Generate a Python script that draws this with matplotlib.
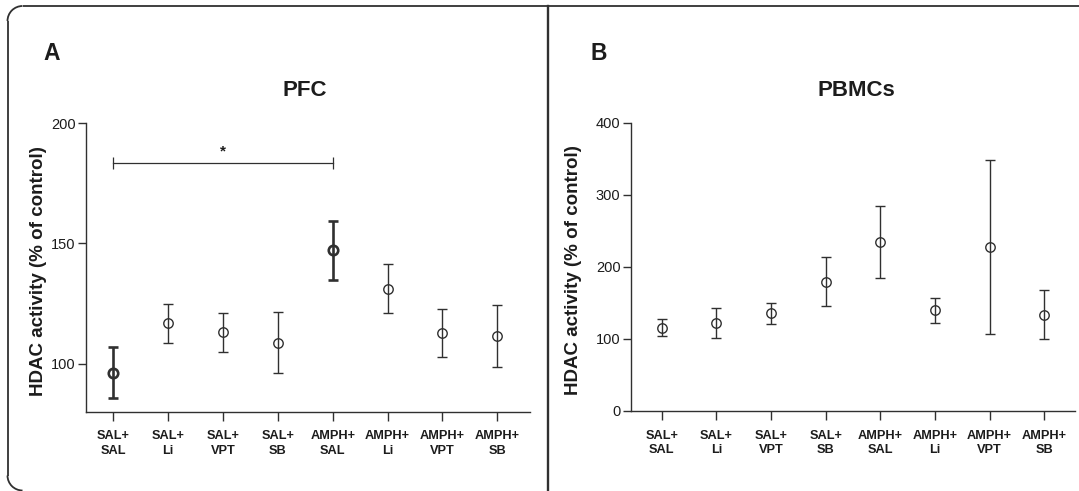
import numpy as np
import matplotlib
matplotlib.use("Agg")
import matplotlib.pyplot as plt
from matplotlib.patches import Arc
from matplotlib.lines import Line2D

plt.rcParams["font.family"] = ["Liberation Sans", "DejaVu Sans"]

# Treatment groups (pretreatment + treatment)
groups = ["SAL+\nSAL", "SAL+\nLi", "SAL+\nVPT", "SAL+\nSB",
          "AMPH+\nSAL", "AMPH+\nLi", "AMPH+\nVPT", "AMPH+\nSB"]

# HDAC activity, % of control (mean and SEM)
pfc_mean = [96.3, 116.7, 113.1, 108.7, 147.1, 131.2, 112.8, 111.4]
pfc_sem = [10.5, 8.3, 8.1, 12.7, 12.3, 10.1, 10.0, 12.8]
pbmc_mean = [115.6, 122.5, 135.5, 179.0, 235.0, 139.7, 228.0, 133.6]
pbmc_sem = [11.5, 21.0, 14.8, 34.0, 50.0, 17.0, 120.7, 34.0]

# Groups compared in the PFC panel and the height of the bracket
pfc_compare = (0, 4)
pfc_bracket = 183.5

W, H, DPI = 1079, 491, 100
fig = plt.figure(figsize=(W / DPI, H / DPI), dpi=DPI)

LINE = "#303030"
TEXT = "#1c1c1c"

# Rounded outer frame and the divider between the panels (pixel space)
frame = fig.add_axes([0, 0, 1, 1], zorder=0)
frame.set_xlim(0, W)
frame.set_ylim(H, 0)
frame.axis("off")
r = 15
x0, y0, y1 = 7.5, 6.0, 490.5
fl = dict(color=LINE, lw=1.3, solid_capstyle="butt")
frame.add_line(Line2D([x0 + r, W + 5], [y0, y0], **fl))
frame.add_line(Line2D([x0, x0], [y0 + r, y1 - r], **fl))
frame.add_line(Line2D([x0 + r, W + 5], [y1 + 2.5, y1 + 2.5], **fl))
frame.add_patch(Arc((x0 + r, y0 + r), 2 * r, 2 * r, theta1=180, theta2=270,
                    color=LINE, lw=1.3))
frame.add_patch(Arc((x0 + r, y1 - r), 2 * r, 2 * r, theta1=90, theta2=180,
                    color=LINE, lw=1.3))
frame.add_line(Line2D([548.3, 548.3], [y0, H], color=LINE, lw=1.7))


def px_axes(left, right, top, bottom):
    return fig.add_axes([left / W, 1 - bottom / H, (right - left) / W, (bottom - top) / H])


def style(ax, ymin, ymax, yticks):
    ax.set_facecolor("none")
    for s in ("top", "right"):
        ax.spines[s].set_visible(False)
    for s in ("left", "bottom"):
        ax.spines[s].set_color(LINE)
        ax.spines[s].set_linewidth(1.0)
    ax.set_ylim(ymin, ymax)
    ax.set_yticks(yticks)
    ax.spines["left"].set_bounds(ymin, ymax)
    ax.set_xticks(range(len(groups)))
    ax.set_xticklabels(groups, fontsize=9.2, fontweight="bold", color=TEXT,
                       linespacing=1.3)
    ax.tick_params(axis="x", length=6.5, width=1.0, color=LINE, pad=7)
    ax.tick_params(axis="y", length=5.8, width=1.0, color=LINE, pad=1.5,
                   labelsize=10.5, labelcolor=TEXT)
    ax.set_ylabel("HDAC activity (% of control)", fontsize=13.5,
                  fontweight="bold", color=TEXT)


def draw_points(ax, means, sems, bold=()):
    for i, (m, e) in enumerate(zip(means, sems)):
        lw = 1.9 if i in bold else 1.0
        ax.errorbar(i, m, yerr=e, fmt="o", ms=6.8, mfc="none", mec=LINE,
                    mew=lw, color=LINE, elinewidth=lw, capsize=3.6,
                    capthick=lw, zorder=3)


# Panel A: prefrontal cortex
axA = px_axes(85.7, 529.6, 123.3, 411.7)
style(axA, 80, 200, [100, 150, 200])
axA.set_xlim(-0.503, 7.589)
draw_points(axA, pfc_mean, pfc_sem, bold=(0, 4))
i0, i1 = pfc_compare
axA.plot([i0, i1], [pfc_bracket, pfc_bracket], color=LINE, lw=0.9)
axA.plot([i0, i1], [pfc_bracket, pfc_bracket], ls="none", marker="|",
         ms=8, mew=0.9, color=LINE)
axA.text((i0 + i1) / 2, pfc_bracket + 2.0, "*", ha="center", va="bottom",
         fontsize=11, fontweight="bold", color=TEXT)
axA.yaxis.set_label_coords(-0.088, 0.488)

# Panel B: peripheral blood mononuclear cells
axB = px_axes(630.7, 1074.5, 122.7, 411.0)
style(axB, 0, 400, [0, 100, 200, 300, 400])
axB.set_xlim(-0.567, 7.552)
draw_points(axB, pbmc_mean, pbmc_sem)
axB.yaxis.set_label_coords(-0.11, 0.488)

# Panel letters and titles
fig.text(52 / W, 1 - 53 / H, "A", ha="center", va="center", fontsize=16.5,
         fontweight="bold", color=TEXT)
fig.text(599 / W, 1 - 53 / H, "B", ha="center", va="center", fontsize=16.5,
         fontweight="bold", color=TEXT)
fig.text(305 / W, 1 - 90 / H, "PFC", ha="center", va="center", fontsize=16,
         fontweight="bold", color=TEXT)
fig.text(856 / W, 1 - 90 / H, "PBMCs", ha="center", va="center", fontsize=16,
         fontweight="bold", color=TEXT)

fig.savefig("out.png", dpi=DPI, facecolor="white")
